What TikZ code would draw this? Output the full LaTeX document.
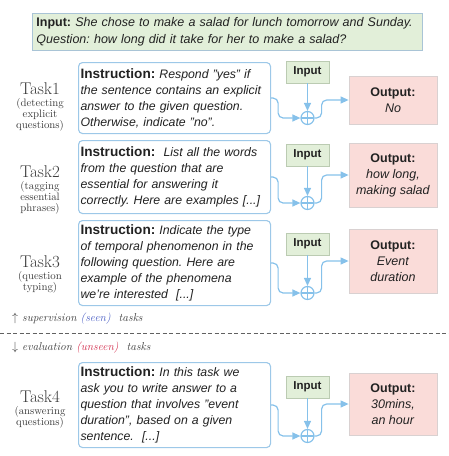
\documentclass[tikz,border=0pt]{standalone}
\usepackage{fontspec}
\setsansfont{Liberation Sans}
\usetikzlibrary{arrows.meta,positioning}
\definecolor{Ib}{HTML}{9DC8E8}
\definecolor{Fl}{HTML}{86C1EA}
\definecolor{Gn}{HTML}{E2EFD9}
\definecolor{Gd}{HTML}{BBCBB2}
\definecolor{Tb}{HTML}{A9C4D6}
\definecolor{Pk}{HTML}{FADCD9}
\definecolor{Pd}{HTML}{D9D1D1}
\definecolor{Sn}{HTML}{4A5EC4}
\definecolor{Us}{HTML}{D3304F}
\definecolor{Tx}{HTML}{222222}
\definecolor{Lb}{HTML}{3A3A3A}
\tikzset{
  top/.style={fill=Gn, draw=Tb, thick, anchor=north west, text width=382pt,
    inner xsep=4pt, minimum height=37pt, align=left, text=Tx,
    font=\sffamily\frenchspacing\fontsize{12.5}{17}\selectfont},
  instr/.style={draw=Ib, line width=1.1pt, rounded corners=4pt, fill=white,
    anchor=north west, text width=188pt, inner xsep=2pt, align=left, text=Tx,
    font=\sffamily\frenchspacing\fontsize{12.3}{16}\selectfont},
  inp/.style={fill=Gn, draw=Gd, thick, minimum width=43pt, minimum height=22pt,
    inner sep=0pt, text=Tx, font=\sffamily\bfseries\fontsize{11.5}{13}\selectfont},
  outp/.style={fill=Pk, draw=Pd, thick, minimum width=88pt, align=center, text=Tx,
    font=\sffamily\fontsize{12.5}{16}\selectfont},
  plus/.style={circle, draw=Fl, line width=1.2pt, minimum size=13pt, inner sep=0pt,
    path picture={\draw[Fl, line width=1.2pt]
      (path picture bounding box.north) -- (path picture bounding box.south)
      (path picture bounding box.west) -- (path picture bounding box.east);}},
  flow/.style={draw=Fl, line width=1.2pt, rounded corners=5pt,
    -{Triangle[length=8pt, width=7pt]}},
  ttl/.style={inner sep=0pt, text=Lb, font=\fontsize{17}{18}\selectfont},
  sub/.style={inner sep=0pt, align=center, text=Lb, font=\fontsize{10.8}{11}\selectfont},
  note/.style={anchor=west, inner sep=0pt, text=Lb, font=\itshape\fontsize{11.5}{12}\selectfont},
}
\newcommand{\ins}{{\fontsize{13.6}{16}\selectfont\bfseries Instruction:}}
\newcommand{\outl}{{\bfseries Output:}}
\begin{document}
\begin{tikzpicture}[x=1pt, y=-1pt]
  \useasboundingbox (0,0) rectangle (449,456);
  % shared input
  \node[top] (src) at (32,12.5) {\textbf{Input:} \textit{She chose to make a salad for lunch tomorrow and Sunday.}\\
    \textit{Question: how long did it take for her to make a salad?}};
  % task labels
  \node[ttl] (t1) at (40,89) {Task1};
  \node[sub, below=3pt of t1] (s1) {(detecting\\explicit\\questions)};
  \node[ttl] (t2) at (40,172) {Task2};
  \node[sub, below=3pt of t2] (s2) {(tagging\\essential\\phrases)};
  \node[ttl] (t3) at (40,262) {Task3};
  \node[sub, below=3pt of t3] (s3) {(question\\typing)};
  \node[ttl] (t4) at (40,397) {Task4};
  \node[sub, below=3pt of t4] (s4) {(answering\\questions)};
  % instructions
  \node[instr, minimum height=71pt] (i1) at (78,62) {\ins{} \textit{Respond "yes" if\\
    the sentence contains an explicit\\answer to the given question.\\Otherwise, indicate "no".}};
  \node[instr, minimum height=73pt] (i2) at (78,140) {\ins{} \ \textit{List all the words\\
    from the question that are\\essential for answering it\\correctly. Here are examples [...]}};
  \node[instr, minimum height=85pt] (i3) at (78,220) {\ins{} \textit{Indicate the type\\
    of temporal phenomenon in the\\following question. Here are\\example of the phenomena\\we're interested \ [...]}};
  \node[instr, minimum height=85pt] (i4) at (78,362) {\ins{} \textit{In this task we\\
    ask you to write answer to a\\question that involves "event\\duration", based on a given\\sentence. \ [...]}};
  % inputs
  \node[inp] (n1) at (307.5,72) {Input};
  \node[inp] (n2) at (307.5,155) {Input};
  \node[inp] (n3) at (307.5,244) {Input};
  \node[inp] (n4) at (307.5,387) {Input};
  % combine
  \node[plus] (p1) at (307.5,118) {};
  \node[plus] (p2) at (307.5,203) {};
  \node[plus] (p3) at (307.5,293) {};
  \node[plus] (p4) at (307.5,436) {};
  % outputs
  \node[outp, minimum height=48pt] (o1) at (393,100) {\outl\\\textit{No}};
  \node[outp, minimum height=64pt] (o2) at (393,175) {\outl\\\textit{how long,}\\\textit{making salad}};
  \node[outp, minimum height=64pt] (o3) at (393,261) {\outl\\\textit{Event}\\\textit{duration}};
  \node[outp, minimum height=62pt] (o4) at (393,404) {\outl\\\textit{30mins,}\\\textit{an hour}};
  \foreach \k in {1,...,4}{
    \draw[flow] (i\k.east) -- ++(7,0) |- (p\k.west);
    \draw[flow] (n\k.south) -- (p\k.north);
    \draw[flow] (p\k.east) -- ++(7,0) |- (o\k.west);
  }
  % split
  \node[note] (up) at (12,319) {$\uparrow$ supervision \textcolor{Sn}{(seen)} \ tasks};
  \node[note] (dn) at (12,348) {$\downarrow$ evaluation \textcolor{Us}{(unseen)} \ tasks};
  \draw[Lb!80, thick, dash pattern=on 4pt off 2.5pt] (0,333) -- (449,333);
\end{tikzpicture}
\end{document}
